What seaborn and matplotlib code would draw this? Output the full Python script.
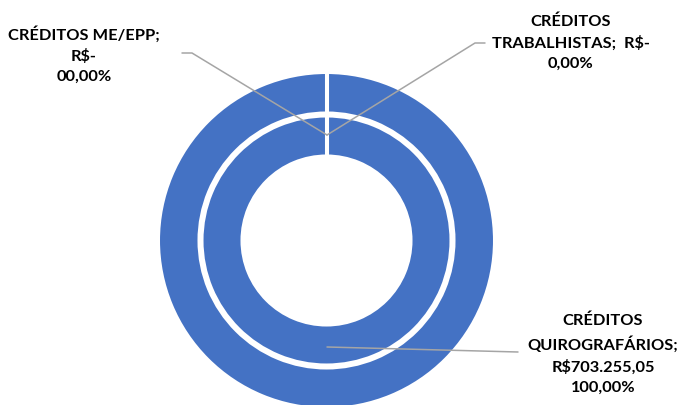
import matplotlib
matplotlib.use("Agg")
import matplotlib.pyplot as plt
import seaborn as sns
import numpy as np

# Dados do gráfico (mesmos valores nos dois anéis)
categorias = ["CRÉDITOS TRABALHISTAS", "CRÉDITOS ME/EPP", "CRÉDITOS QUIROGRAFÁRIOS"]
valores_externo = [0.0, 0.0, 703255.05]
valores_interno = [0.0, 0.0, 703255.05]
rotulos = [
    "CRÉDITOS\nTRABALHISTAS;  R$-\n0,00%",
    "CRÉDITOS ME/EPP;\nR$-\n00,00%",
    "CRÉDITOS\nQUIROGRAFÁRIOS;\nR$703.255,05\n100,00%",
]

sns.set_theme(style="white")
plt.rcParams["font.family"] = ["Lato", "DejaVu Sans"]

W, H = 681, 405
fig = plt.figure(figsize=(W / 100, H / 100), dpi=100)
ax = fig.add_axes([0, 0, 1, 1])

azul = "#4472C4"
cores = [azul] * len(categorias)
cx, cy = 326.5, H - 240.5  # centro em coordenadas de pixel (y para cima)

fatias = []
for valores, raio, largura in [(valores_externo, 168.5, 41.5), (valores_interno, 125, 41)]:
    wedges, _ = ax.pie(valores, radius=raio, center=(cx, cy), colors=cores,
                       startangle=90, counterclock=False,
                       wedgeprops=dict(width=largura, edgecolor="white", linewidth=2.9))
    fatias.extend(wedges)

# Bordas das fatias com valor zero (o matplotlib não desenha a borda radial)
for w in fatias:
    if abs(w.theta2 - w.theta1) < 1e-9:
        t = np.deg2rad(w.theta1)
        r0, r1 = w.r - w.width - 1.5, w.r + 1.5
        ax.plot([cx + r0 * np.cos(t), cx + r1 * np.cos(t)],
                [cy + r0 * np.sin(t), cy + r1 * np.sin(t)],
                color="white", lw=2.9, solid_capstyle="butt", zorder=3)

ax.set_xlim(0, W)
ax.set_ylim(0, H)
ax.set_aspect("equal")
ax.axis("off")

def Y(y):
    return H - y

# Linhas de chamada
cinza = "#A5A5A5"
ax.plot([182, 192, 327], [Y(53), Y(53), Y(135)], color=cinza, lw=1.1, zorder=4)
ax.plot([327, 475, 485], [Y(135), Y(43), Y(43)], color=cinza, lw=1.1, zorder=4)
ax.plot([327, 518], [Y(347), Y(352)], color=cinza, lw=1.1, zorder=4)

# Rótulos
kw = dict(ha="center", va="center", fontsize=11.8, fontweight="bold",
          color="black", linespacing=1.55)
ax.text(571, Y(43), rotulos[0], **kw)
ax.text(84, Y(55), rotulos[1], **kw)
ax.text(603, Y(354), rotulos[2], **kw)

fig.savefig("out.png", dpi=100)
